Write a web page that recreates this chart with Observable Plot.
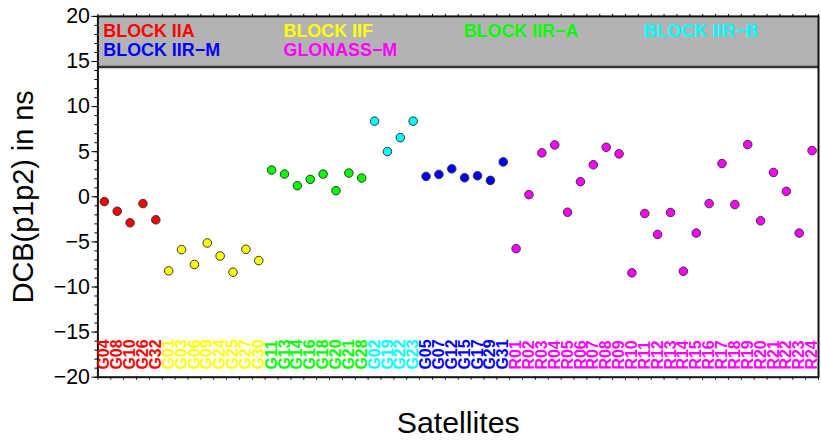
<!DOCTYPE html>
<html><head><meta charset="utf-8">
<script src="https://cdn.jsdelivr.net/npm/d3@7"></script>
<script src="https://cdn.jsdelivr.net/npm/@observablehq/plot@0.6"></script>
<style>html,body{margin:0;padding:0;overflow:hidden;background:#fff}</style>
</head><body><div id="chart"></div>
<script>
// ---- data ----
const groupNames = ["BLOCK IIA", "BLOCK IIF", "BLOCK IIR\u2212A", "BLOCK IIR\u2212B", "BLOCK IIR\u2212M", "GLONASS\u2212M"];
const groupColors = ["#ff0000", "#ffff00", "#00ff00", "#00ffff", "#0000ff", "#ff00ff"];

const satIIA  = ["G04","G08","G10","G26","G32"];
const valIIA  = [-0.53, -1.6, -2.88, -0.75, -2.55];
const satIIF  = ["G01","G03","G06","G09","G24","G25","G27","G30"];
const valIIF  = [-8.21, -5.86, -7.51, -5.12, -6.56, -8.36, -5.82, -7.07];
const satIIRA = ["G11","G13","G14","G16","G18","G20","G21","G28"];
const valIIRA = [2.96, 2.52, 1.23, 1.93, 2.52, 0.68, 2.63, 2.08];
const satIIRB = ["G02","G19","G22","G23"];
const valIIRB = [8.39, 5.01, 6.56, 8.39];
const satIIRM = ["G05","G07","G12","G15","G17","G29","G31"];
const valIIRM = [2.26, 2.48, 3.10, 2.11, 2.33, 1.82, 3.87];
const satGLO  = ["R01","R02","R03","R04","R05","R06","R07","R08","R09","R10","R11","R12",
                 "R13","R14","R15","R16","R17","R18","R19","R20","R21","R22","R23","R24"];
const valGLO  = [-5.75, 0.24, 4.87, 5.75, -1.71, 1.67, 3.55, 5.49, 4.76, -8.43, -1.85, -4.17,
                 -1.74, -8.25, -4.02, -0.75, 3.69, -0.86, 5.79, -2.66, 2.70, 0.61, -4.02, 5.12];

const yTicksMajor = [-20, -15, -10, -5, 0, 5, 10, 15, 20];
const yDomain = [-20, 20];
const bandBottom = 14.38;
const yLabel = "DCB(p1p2) in ns";
const xLabel = "Satellites";

// ---- build table ----
const sats = [satIIA, satIIF, satIIRA, satIIRB, satIIRM, satGLO];
const vals = [valIIA, valIIF, valIIRA, valIIRB, valIIRM, valGLO];
const rows = [];
sats.forEach((list, g) => list.forEach((s, k) => rows.push({sat: s, value: vals[g][k], group: groupNames[g]})));
rows.forEach((r, i) => r.pos = i + 0.5);
const nSat = rows.length;
const legend = groupNames.map((name, i) => ({name, col: (i % 4) * 14 + 0.5, row: Math.floor(i / 4)}));

const minus = d => d < 0 ? "\u2212" + (-d) : String(d);
const colorScale = {domain: groupNames, range: groupColors};

const chart = Plot.plot({
  width: 826,
  height: 442,
  marginLeft: 98,
  marginRight: 3,
  marginTop: 16,
  marginBottom: 63,
  style: {fontFamily: "'Liberation Sans', Arial, sans-serif", background: "#fff", color: "#000"},
  x: {type: "linear", domain: [0, nSat], axis: null, label: null},
  y: {domain: yDomain, axis: null, label: null},
  color: colorScale,
  marks: [
    Plot.rect([0], {x1: 0, x2: nSat, y1: bandBottom, y2: yDomain[1], fill: "#b3b3b3"}),
    Plot.ruleY([bandBottom], {stroke: "#333", strokeWidth: 2.5}),
    Plot.axisY(d3.range(-20, 21), {tickSize: 3, tickFormat: () => "", label: null}),
    Plot.axisY(yTicksMajor, {tickSize: 6, tickPadding: 2, fontSize: 21.5, tickFormat: minus, label: null}),
    Plot.axisX(d3.range(0, nSat + 1), {anchor: "top", tickSize: 3, tickFormat: () => "", label: null}),
    Plot.axisX(d3.range(0, nSat + 1), {anchor: "bottom", tickSize: 3, tickFormat: () => "", label: null}),
    Plot.frame({stroke: "#111", strokeWidth: 2}),
    Plot.dot(rows, {x: "pos", y: "value", fill: "group", r: 4.3, stroke: "#333", strokeWidth: 1}),
    Plot.text(rows, {x: "pos", y: -19.15, text: "sat", fill: "group", rotate: -90, textAnchor: "start",
      fontWeight: "bold", fontSize: 16}),
    Plot.text(legend, {x: "col", y: d => d.row === 0 ? 17.72 : 15.59, text: "name", fill: "name",
      textAnchor: "start", lineAnchor: "bottom", dx: -1, fontWeight: "bold", fontSize: 18}),
    Plot.text([yLabel], {frameAnchor: "left", textAnchor: "middle", rotate: -90, dx: -75, fontSize: 29}),
    Plot.text([xLabel], {frameAnchor: "bottom", textAnchor: "middle", lineAnchor: "bottom", dy: 56, fontSize: 30.5})
  ]
});
document.getElementById("chart").appendChild(chart);
</script>
</body></html>
